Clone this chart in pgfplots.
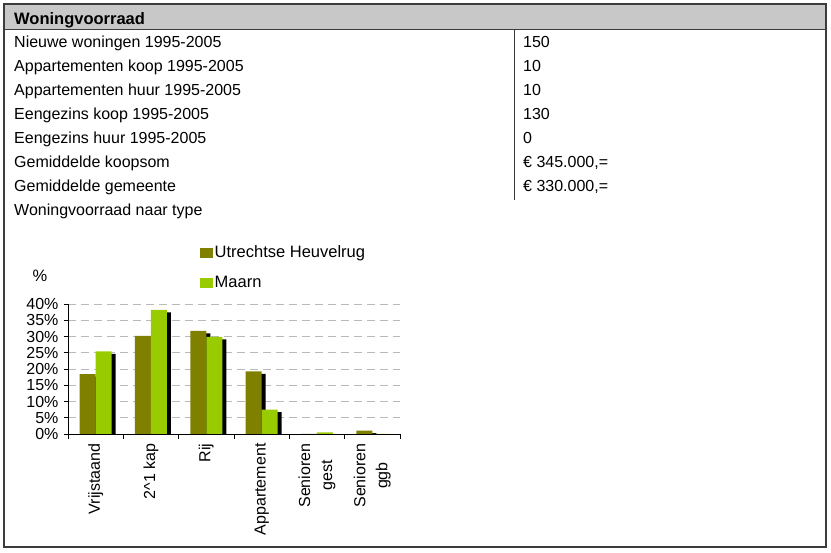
\documentclass[border=0pt]{standalone}
\usepackage{fontspec}
\setmainfont{Liberation Sans}
\usepackage{pgfplots}
\pgfplotsset{compat=1.18}
\definecolor{olivec}{RGB}{128,128,0}
\definecolor{limec}{RGB}{153,204,0}
\definecolor{headgray}{RGB}{200,200,200}
\definecolor{framec}{RGB}{60,60,60}
\definecolor{gridc}{RGB}{185,185,185}
\begin{document}
\fontsize{16}{19}\selectfont
\begin{tikzpicture}
\useasboundingbox (0pt,0pt) rectangle (831pt,553pt);
% header band
\fill[headgray] (4pt,549pt) rectangle (826pt,523pt);
\draw[framec, line width=1pt] (4pt,523pt) -- (826pt,523pt);
\draw[framec, line width=1.2pt] (514.5pt,523pt) -- (514.5pt,353pt);
\draw[framec, line width=2pt] (3.5pt,549pt) rectangle (826pt,6pt);
\node[anchor=base west, inner sep=0pt, font=\fontsize{16.5}{19}\selectfont\bfseries] at (14pt,528pt) {Woningvoorraad};
% rows
\node[anchor=base west, inner sep=0pt] at (14pt,505pt) {Nieuwe woningen 1995-2005};
\node[anchor=base west, inner sep=0pt] at (14pt,481pt) {Appartementen koop 1995-2005};
\node[anchor=base west, inner sep=0pt] at (14pt,457pt) {Appartementen huur 1995-2005};
\node[anchor=base west, inner sep=0pt] at (14pt,433pt) {Eengezins koop 1995-2005};
\node[anchor=base west, inner sep=0pt] at (14pt,409pt) {Eengezins huur 1995-2005};
\node[anchor=base west, inner sep=0pt] at (14pt,385pt) {Gemiddelde koopsom};
\node[anchor=base west, inner sep=0pt] at (14pt,361pt) {Gemiddelde gemeente};
\node[anchor=base west, inner sep=0pt] at (14pt,337pt) {Woningvoorraad naar type};
\node[anchor=base west, inner sep=0pt] at (523pt,505pt) {150};
\node[anchor=base west, inner sep=0pt] at (523pt,481pt) {10};
\node[anchor=base west, inner sep=0pt] at (523pt,457pt) {10};
\node[anchor=base west, inner sep=0pt] at (523pt,433pt) {130};
\node[anchor=base west, inner sep=0pt] at (523pt,409pt) {0};
\node[anchor=base west, inner sep=0pt] at (523pt,385pt) {€ 345.000,=};
\node[anchor=base west, inner sep=0pt] at (523pt,361pt) {€ 330.000,=};
% percent label
\node[inner sep=0pt, font=\fontsize{16.5}{19}\selectfont] at (40pt,277pt) {\%};
\begin{axis}[
  at={(68pt,119pt)}, anchor=south west,
  scale only axis, width=332pt, height=130pt,
  xmin=-0.5, xmax=5.5, ymin=0, ymax=40,
  axis lines=left, axis line style={-, line width=0.8pt, black},
  ytick={0,5,...,40},
  yticklabel={\pgfmathprintnumber{\tick}\%},
  xtick={0,...,5},
  xticklabels={Vrijstaand, 2\textasciicircum 1 kap, Rij, Appartement, {Senioren\\[3pt]gest}, {Senioren\\[3pt]ggb}},
  minor xtick={-0.5,0.5,...,5.5},
  major x tick style={draw=none},
  tick align=outside,
  major tick length=4pt, minor tick length=5pt,
  tick style={black, line width=0.8pt},
  tick label style={font=\fontsize{16}{19}\selectfont},
  xticklabel style={rotate=90, anchor=east, align=center},
  /pgf/number format/assume math mode=true,
  ymajorgrids,
  grid style={gridc, dash pattern=on 8pt off 5pt, line width=0.8pt},
  legend style={at={(0.3976,1.465)}, anchor=north west, draw=none, fill=none,
    font=\fontsize{16.5}{19}\selectfont, row sep=12pt, inner sep=0pt,
    /tikz/every even column/.style={column sep=2pt}},
  legend cell align=left,
  legend image code/.code={\fill[#1] (0pt,-5pt) rectangle (12.5pt,5pt);},
]
\addplot[ybar, bar width=16pt, bar shift=-4pt, fill=black, draw=none, yshift=-2.5pt, forget plot]
  coordinates {(0,18.4) (1,30.2) (2,31.7) (3,19.3) (4,0) (5,1.0)};
\addplot[ybar, bar width=16pt, bar shift=12pt, fill=black, draw=none, yshift=-2.5pt, forget plot]
  coordinates {(0,25.4) (1,38.2) (2,29.9) (3,7.5) (4,0.5) (5,0)};
\addplot[ybar, bar width=16pt, bar shift=-8pt, fill=olivec, draw=none]
  coordinates {(0,18.4) (1,30.2) (2,31.7) (3,19.3) (4,0) (5,1.0)};
\addplot[ybar, bar width=16pt, bar shift=8pt, fill=limec, draw=none]
  coordinates {(0,25.4) (1,38.2) (2,29.9) (3,7.5) (4,0.5) (5,0)};
\legend{Utrechtse Heuvelrug, Maarn}
\end{axis}
\end{tikzpicture}
\end{document}
